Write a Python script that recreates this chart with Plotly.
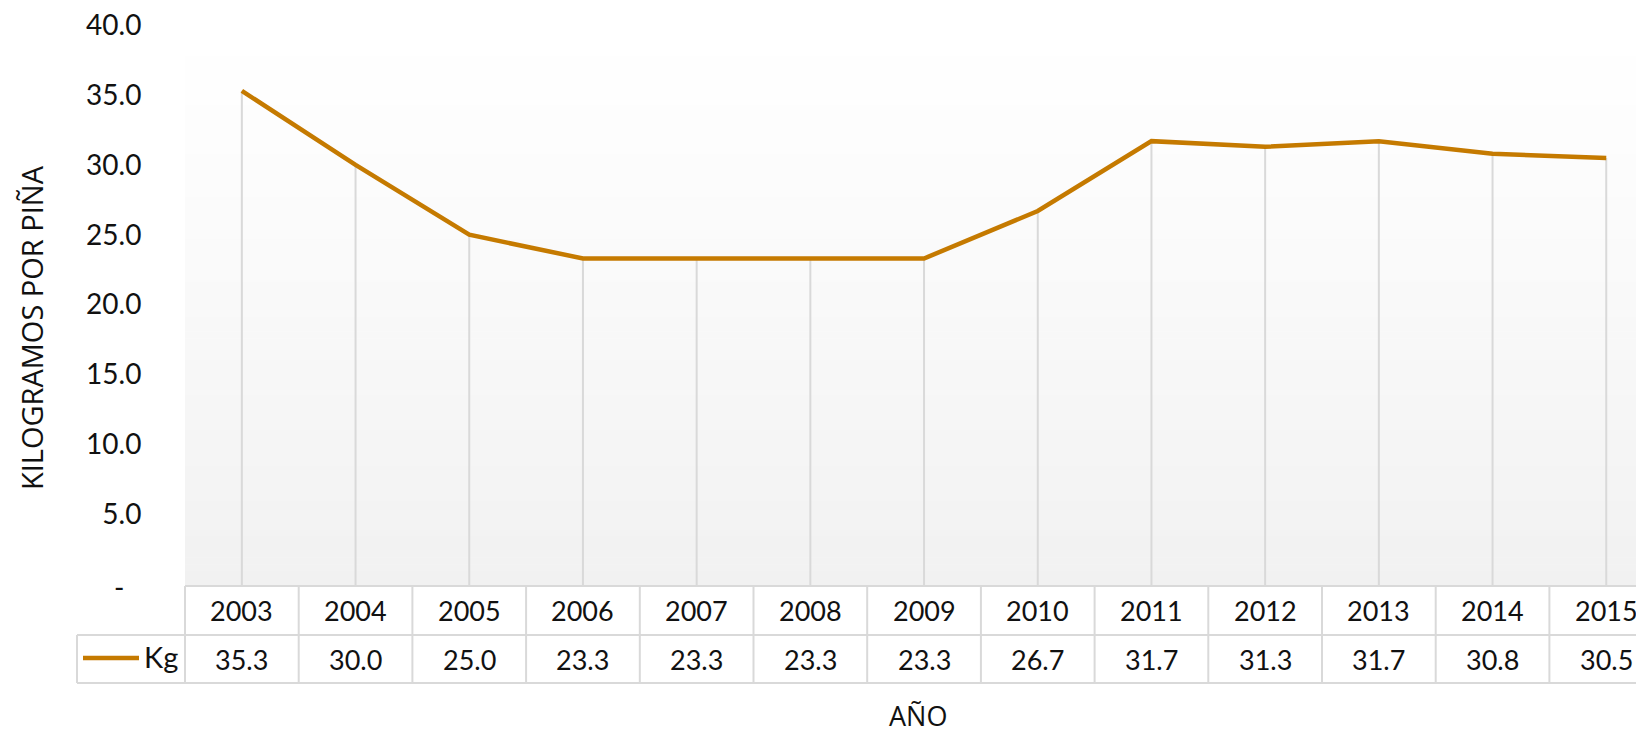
import plotly.graph_objects as go

# ---------------- data ----------------
years = ["2003", "2004", "2005", "2006", "2007", "2008", "2009",
         "2010", "2011", "2012", "2013", "2014", "2015"]
kg = [35.3, 30.0, 25.0, 23.3, 23.3, 23.3, 23.3, 26.7, 31.7, 31.3, 31.7, 30.8, 30.5]
series_name = "Kg"
y_ticks = [5, 10, 15, 20, 25, 30, 35, 40]
y_title = "KILOGRAMOS POR PIÑA"
x_title = "AÑO"

# ---------------- layout geometry (screen pixels) ----------------
OFF = 8                      # page body margin in the browser
W, H = 1644 - OFF, 735 - OFF
L = 185                      # plot-area left on screen
Y0_PIX = 584                 # screen y of value 0
K = 13.975                   # pixels per kg
Y_MIN, Y_MAX = -0.143, 40.3
T = Y0_PIX - Y_MAX * K       # plot-area top on screen
B_PIX = Y0_PIX - Y_MIN * K   # plot-area bottom / table top on screen
PW = 1644 - L                # plot width (chart is cut at right edge)
PH = B_PIX - T
CAT_W = 113.7                # pixels per category

LINE_COLOR = "#C57A00"
GRID_COLOR = "#D9D9D9"
NUM_FONT = "Lato"
TXT_FONT = "Open Sans"
TXT_COLOR = "#111111"


def px(x):
    return (x - L) / PW


def py(y):
    return (B_PIX - y) / PH


xs = list(range(len(years)))

fig = go.Figure()

# drop lines from each point to the axis
dx, dy = [], []
for i, v in zip(xs, kg):
    dx += [i, i, None]
    dy += [Y_MIN, v, None]
fig.add_trace(go.Scatter(x=dx, y=dy, mode="lines", hoverinfo="skip",
                         line=dict(color=GRID_COLOR, width=2), showlegend=False))

# main line
fig.add_trace(go.Scatter(x=xs, y=kg, mode="lines", name=series_name,
                         line=dict(color=LINE_COLOR, width=4.5), showlegend=False,
                         cliponaxis=False))

shapes = []
# gradient plot background (white at top fading to light grey)
N = 80
for k in range(N):
    t0 = k / N
    t1 = (k + 1) / N
    frac = (t0 + t1) / 2          # 0 top -> 1 bottom
    c = int(round(255 - 14 * frac ** 1.2))
    shapes.append(dict(type="rect", xref="paper", yref="paper", x0=0, x1=1,
                       y0=1 - t1, y1=1 - t0 + 0.001, layer="below",
                       line=dict(width=0), fillcolor=f"rgb({c},{c},{c})"))

# table borders
row_top, row_mid, row_bot = B_PIX, 635, 683
leg_left = 77
bc = dict(color=GRID_COLOR, width=2)
shapes.append(dict(type="line", xref="paper", yref="paper", x0=0, x1=1.02,
                   y0=py(row_top), y1=py(row_top), line=bc))
for yy in (row_mid, row_bot):
    shapes.append(dict(type="line", xref="paper", yref="paper", x0=px(leg_left), x1=1.02,
                       y0=py(yy), y1=py(yy), line=bc))
shapes.append(dict(type="line", xref="paper", yref="paper", x0=px(leg_left), x1=px(leg_left),
                   y0=py(row_mid), y1=py(row_bot), line=bc))
shapes.append(dict(type="line", xref="paper", yref="paper", x0=0, x1=0,
                   y0=py(row_top), y1=py(row_bot), line=bc))
for i in xs[1:]:
    shapes.append(dict(type="line", xref="x", yref="paper", x0=i - 0.5, x1=i - 0.5,
                       y0=py(row_top), y1=py(row_bot), line=bc))
# legend key in table
shapes.append(dict(type="line", xref="paper", yref="paper", x0=px(83), x1=px(139),
                   y0=py(658), y1=py(658), line=dict(color=LINE_COLOR, width=4.5)))

annotations = []
for i, (yr, v) in enumerate(zip(years, kg)):
    annotations.append(dict(x=i, y=py(611), xref="x", yref="paper", text=yr,
                            showarrow=False, xanchor="center", yanchor="middle",
                            font=dict(family=NUM_FONT, size=27, color=TXT_COLOR)))
    annotations.append(dict(x=i, y=py(660), xref="x", yref="paper", text=f"{v:.1f}",
                            showarrow=False, xanchor="center", yanchor="middle",
                            font=dict(family=NUM_FONT, size=27, color=TXT_COLOR)))
annotations.append(dict(x=px(142), y=py(657), xref="paper", yref="paper", text=series_name,
                        showarrow=False, xanchor="left", yanchor="middle",
                        font=dict(family=NUM_FONT, size=29, color=TXT_COLOR)))
# zero label
annotations.append(dict(x=px(119), y=py(587), xref="paper", yref="paper", text="-",
                        showarrow=False, xanchor="center", yanchor="middle",
                        font=dict(family=NUM_FONT, size=28, color=TXT_COLOR)))
# axis titles
annotations.append(dict(x=px(31), y=py(328), xref="paper", yref="paper", text=y_title,
                        textangle=-90, showarrow=False, xanchor="center", yanchor="middle",
                        font=dict(family=TXT_FONT, size=29, color=TXT_COLOR)))
annotations.append(dict(x=px(918), y=py(716), xref="paper", yref="paper", text=x_title,
                        showarrow=False, xanchor="center", yanchor="middle",
                        font=dict(family=TXT_FONT, size=27, color=TXT_COLOR)))

fig.update_layout(
    width=W, height=H,
    margin=dict(l=L - OFF, r=0, t=T - OFF, b=H - (B_PIX - OFF), pad=0),
    paper_bgcolor="white", plot_bgcolor="white",
    shapes=shapes, annotations=annotations,
    xaxis=dict(range=[-0.5, -0.5 + PW / CAT_W], showgrid=False, zeroline=False,
               showticklabels=False, showline=False, ticks="", fixedrange=True),
    yaxis=dict(range=[Y_MIN, Y_MAX], showgrid=False, zeroline=False, showline=False,
               tickvals=y_ticks, ticktext=[f"{v:.1f}" for v in y_ticks],
               ticks="outside", ticklen=37, tickcolor="rgba(0,0,0,0)",
               ticklabeloverflow="allow",
               tickfont=dict(family=NUM_FONT, size=28, color=TXT_COLOR), fixedrange=True),
    showlegend=False,
)

fig.write_html("out.html")
